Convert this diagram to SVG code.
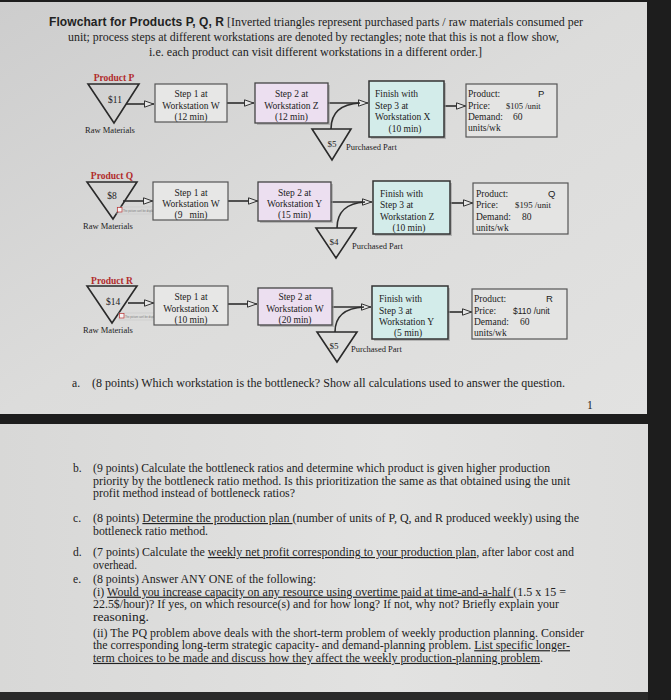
<svg xmlns="http://www.w3.org/2000/svg" width="671" height="700" viewBox="0 0 671 700">
<defs>
<linearGradient id="pg1" x1="0" y1="0" x2="1" y2="1">
<stop offset="0" stop-color="#cdcdcd"/><stop offset="0.5" stop-color="#dcdcdb"/><stop offset="1" stop-color="#e2e2e1"/>
</linearGradient>
<linearGradient id="pg2" x1="0" y1="0" x2="1" y2="0">
<stop offset="0" stop-color="#d8d8d7"/><stop offset="0.6" stop-color="#e2e2e1"/><stop offset="1" stop-color="#dddddc"/>
</linearGradient>
<marker id="ah" viewBox="0 0 10 8" refX="10" refY="4" markerWidth="10" markerHeight="8" markerUnits="userSpaceOnUse" orient="auto">
<path d="M0.5,0.8 L9.5,4 L0.5,7.2 z" fill="#e6e6e6" stroke="#333" stroke-width="1"/>
</marker>
</defs>
<style>
.s{font-family:"Liberation Serif",serif;fill:#222}
.h{font-family:"Liberation Sans",Arial,sans-serif;fill:#222}
.bx{font-size:9.5px}
.c{text-anchor:middle}
.q{font-size:11.6px}
.lab{font-family:"Liberation Serif",serif;font-weight:bold;font-size:9.5px;fill:#b12b2b;text-anchor:middle}
.tri{fill:none;stroke:#2a2a2a;stroke-width:1.6}
.b1{fill:#e7e7e6;stroke:#555;stroke-width:1.2}
.b2{fill:#ecdff0;stroke:#444;stroke-width:1.3}
.b3{fill:#d3ecea;stroke:#333;stroke-width:1.5}
.b4{fill:#e4e4e3;stroke:#555;stroke-width:1.2}
.sh{fill:#9a9a9a;opacity:0.6}
.ln{fill:none;stroke:#2e2e2e;stroke-width:1.6}
.u{text-decoration:underline}
</style>
<rect x="0" y="0" width="671" height="700" fill="#1d1d1d"/>
<rect x="0" y="2" width="647" height="412" fill="url(#pg1)"/>
<rect x="0" y="424" width="648" height="268" fill="url(#pg2)"/>
<rect x="0" y="692" width="648" height="8" fill="#2a2a2a"/>

<g id="title">
<text class="h" x="49" y="26" font-size="12" font-weight="bold" textLength="175">Flowchart for Products P, Q, R</text>
<text class="s" x="227" y="26" font-size="11.5" textLength="356" lengthAdjust="spacingAndGlyphs">[Inverted triangles represent purchased parts / raw materials consumed per</text>
<text class="s" x="68" y="41" font-size="11.5" textLength="491" lengthAdjust="spacingAndGlyphs">unit; process steps at different workstations are denoted by rectangles; note that this is not a flow show,</text>
<text class="s" x="149" y="56" font-size="11.5" textLength="333" lengthAdjust="spacingAndGlyphs">i.e. each product can visit different workstations in a different order.]</text>
</g>

<g id="connectors">
<line class="ln" x1="126" y1="104" x2="154" y2="104" marker-end="url(#ah)"/>
<line class="ln" x1="227" y1="103" x2="254" y2="103" marker-end="url(#ah)"/>
<line class="ln" x1="328" y1="103" x2="368" y2="103" marker-end="url(#ah)"/>
<path class="ln" d="M331,129 C331,112 341,104 360,103"/>
<line class="ln" x1="444" y1="106" x2="466" y2="106" marker-end="url(#ah)"/>

<line class="ln" x1="123" y1="201" x2="153" y2="201" marker-end="url(#ah)"/>
<line class="ln" x1="228" y1="201" x2="258" y2="201" marker-end="url(#ah)"/>
<line class="ln" x1="331" y1="202" x2="372" y2="202" marker-end="url(#ah)"/>
<path class="ln" d="M337,228 C337,212 347,203 365,202"/>
<line class="ln" x1="450" y1="203" x2="473" y2="203" marker-end="url(#ah)"/>

<line class="ln" x1="128" y1="303" x2="154" y2="303" marker-end="url(#ah)"/>
<line class="ln" x1="228" y1="304" x2="257" y2="304" marker-end="url(#ah)"/>
<line class="ln" x1="332" y1="307" x2="371" y2="307" marker-end="url(#ah)"/>
<path class="ln" d="M335,332 C335,316 345,308 364,307"/>
<line class="ln" x1="448" y1="312" x2="472" y2="312" marker-end="url(#ah)"/>
</g>

<!-- Product P -->
<g id="p-raw">
<text class="lab" x="114" y="81">Product P</text>
<polygon class="tri" points="88,84 139,84 114,123"/>
<text class="s bx c" x="115" y="103">$11</text>
<text class="s c" x="110" y="133" font-size="8.5">Raw Materials</text>
</g>
<g id="p-step1">
<rect class="b1" x="155" y="84" width="72" height="38"/>
<text class="s bx c" x="191" y="97">Step 1 at</text>
<text class="s bx c" x="191" y="108.5">Workstation W</text>
<text class="s bx c" x="191" y="120">(12 min)</text>
</g>
<g id="p-step2">
<rect class="sh" x="257" y="85" width="73" height="40"/>
<rect class="b2" x="255" y="83" width="73" height="40"/>
<text class="s bx c" x="291.5" y="97">Step 2 at</text>
<text class="s bx c" x="291.5" y="108.5">Workstation Z</text>
<text class="s bx c" x="291.5" y="120">(12 min)</text>
</g>
<g id="p-step3">
<rect class="sh" x="371" y="83" width="75" height="56"/>
<rect class="b3" x="369" y="81" width="75" height="56"/>
<text class="s bx" x="375" y="97">Finish with</text>
<text class="s bx" x="375" y="108.5">Step 3 at</text>
<text class="s bx" x="375" y="120">Workstation X</text>
<text class="s bx c" x="405" y="132">(10 min)</text>
</g>
<g id="p-product">
<rect class="b4" x="466" y="84" width="91" height="53"/>
<text class="s bx" x="468" y="97">Product:</text>
<text class="h bx" x="538" y="97">P</text>
<text class="s bx" x="468" y="108.5">Price:</text>
<text class="s" x="506" y="108.5" font-size="8.5">$105 /unit</text>
<text class="s bx" x="468" y="120">Demand:</text>
<text class="s bx" x="513" y="120">60</text>
<text class="s bx" x="468" y="131">units/wk</text>
</g>
<g id="p-purchased">
<polygon class="tri" points="312,129 351,129 332,160"/>
<text class="s c" x="332" y="147" font-size="9">$5</text>
<text class="s" x="346" y="150" font-size="8.5">Purchased Part</text>
</g>

<!-- Product Q -->
<g id="q-raw">
<text class="lab" x="112" y="179">Product Q</text>
<polygon class="tri" points="87,182 137,182 113,219"/>
<text class="s bx c" x="112" y="199">$8</text>
<text class="s c" x="108" y="229" font-size="8.5">Raw Materials</text>
<rect x="117" y="207" width="38" height="7" fill="none" stroke="#c8c8c8" stroke-width="0.6"/>
<rect x="117.5" y="207.5" width="4.5" height="4.5" fill="#f4f4f4" stroke="#b33" stroke-width="0.7"/>
<text x="123" y="211.5" font-family="Liberation Sans, sans-serif" font-size="2.6" fill="#777">The picture can't be displayed.</text>
</g>
<g id="q-step1">
<rect class="b1" x="153" y="182" width="75" height="38"/>
<text class="s bx c" x="191" y="195.5">Step 1 at</text>
<text class="s bx c" x="191" y="206.5">Workstation W</text>
<text class="s bx c" x="191" y="218" xml:space="preserve">(9   min)</text>
</g>
<g id="q-step2">
<rect class="sh" x="260" y="184" width="73" height="39"/>
<rect class="b2" x="258" y="182" width="73" height="39"/>
<text class="s bx c" x="294.5" y="195.5">Step 2 at</text>
<text class="s bx c" x="294.5" y="206.5">Workstation Y</text>
<text class="s bx c" x="294.5" y="218">(15 min)</text>
</g>
<g id="q-step3">
<rect class="sh" x="375" y="183" width="77" height="53"/>
<rect class="b3" x="373" y="181" width="77" height="53"/>
<text class="s bx" x="380" y="196.5">Finish with</text>
<text class="s bx" x="380" y="208">Step 3 at</text>
<text class="s bx" x="380" y="219.5">Workstation Z</text>
<text class="s bx c" x="409" y="231">(10 min)</text>
</g>
<g id="q-product">
<rect class="b4" x="473" y="183" width="95" height="51"/>
<text class="s bx" x="476" y="196.5">Product:</text>
<text class="h bx" x="548" y="196.5">Q</text>
<text class="s bx" x="476" y="208">Price:</text>
<text class="s" x="515" y="208" font-size="8.8">$195 /unit</text>
<text class="s bx" x="476" y="219.5">Demand:</text>
<text class="s bx" x="522" y="219.5">80</text>
<text class="s bx" x="476" y="231">units/wk</text>
</g>
<g id="q-purchased">
<polygon class="tri" points="316,228 356,228 336,258"/>
<text class="s c" x="334" y="245" font-size="9">$4</text>
<text class="s" x="352" y="249" font-size="8.5">Purchased Part</text>
</g>

<!-- Product R -->
<g id="r-raw">
<text class="lab" x="112" y="284">Product R</text>
<polygon class="tri" points="87,286 137,286 112,323"/>
<text class="s bx c" x="113" y="305">$14</text>
<text class="s c" x="108" y="333" font-size="8.5">Raw Materials</text>
<rect x="119" y="313" width="36" height="7" fill="none" stroke="#c8c8c8" stroke-width="0.6"/>
<rect x="119.5" y="313.5" width="4.5" height="4.5" fill="#f4f4f4" stroke="#b33" stroke-width="0.7"/>
<text x="125" y="317.5" font-family="Liberation Sans, sans-serif" font-size="2.6" fill="#777">The picture can't be displayed.</text>
</g>
<g id="r-step1">
<rect class="b1" x="154" y="286" width="74" height="39"/>
<text class="s bx c" x="191" y="300">Step 1 at</text>
<text class="s bx c" x="191" y="311.5">Workstation X</text>
<text class="s bx c" x="191" y="323">(10 min)</text>
</g>
<g id="r-step2">
<rect class="sh" x="260" y="290" width="74" height="37"/>
<rect class="b2" x="258" y="288" width="74" height="37"/>
<text class="s bx c" x="295" y="300">Step 2 at</text>
<text class="s bx c" x="295" y="311.5">Workstation W</text>
<text class="s bx c" x="295" y="323">(20 min)</text>
</g>
<g id="r-step3">
<rect class="sh" x="374" y="288" width="76" height="53"/>
<rect class="b3" x="372" y="286" width="76" height="53"/>
<text class="s bx" x="379" y="302">Finish with</text>
<text class="s bx" x="379" y="313.5">Step 3 at</text>
<text class="s bx" x="379" y="325">Workstation Y</text>
<text class="s bx c" x="408" y="335.5">(5 min)</text>
</g>
<g id="r-product">
<rect class="b4" x="472" y="289" width="95" height="50"/>
<text class="s bx" x="474" y="302">Product:</text>
<text class="h bx" x="546" y="302">R</text>
<text class="s bx" x="474" y="313.5">Price:</text>
<text class="h" x="513" y="313.5" font-size="8.5">$110 /unit</text>
<text class="s bx" x="474" y="325">Demand:</text>
<text class="s bx" x="520" y="325">60</text>
<text class="s bx" x="474" y="336">units/wk</text>
</g>
<g id="r-purchased">
<polygon class="tri" points="317,332 357,332 337,362"/>
<text class="s c" x="334" y="349" font-size="9">$5</text>
<text class="s" x="351" y="352" font-size="8.5">Purchased Part</text>
</g>

<g id="questions">
<text class="s q" x="72" y="387">a.</text>
<text class="s q" x="92" y="387" textLength="473" lengthAdjust="spacingAndGlyphs">(8 points) Which workstation is the bottleneck? Show all calculations used to answer the question.</text>
<text class="s q" x="587" y="409">1</text>

<text class="s q" x="73" y="472">b.</text>
<text class="s q" x="93" y="472" textLength="457" lengthAdjust="spacingAndGlyphs">(9 points) Calculate the bottleneck ratios and determine which product is given higher production</text>
<text class="s q" x="93" y="484.7" textLength="477" lengthAdjust="spacingAndGlyphs">priority by the bottleneck ratio method. Is this prioritization the same as that obtained using the unit</text>
<text class="s q" x="93" y="497.4" textLength="202" lengthAdjust="spacingAndGlyphs">profit method instead of bottleneck ratios?</text>

<text class="s q" x="73" y="522">c.</text>
<text class="s q" x="93" y="522" textLength="486" lengthAdjust="spacingAndGlyphs">(8 points) <tspan class="u">Determine the production plan </tspan>(number of units of P, Q, and R produced weekly) using the</text>
<text class="s q" x="93" y="534.7" textLength="115" lengthAdjust="spacingAndGlyphs">bottleneck ratio method.</text>

<text class="s q" x="73" y="556">d.</text>
<text class="s q" x="93" y="556" textLength="481" lengthAdjust="spacingAndGlyphs">(7 points) Calculate the <tspan class="u">weekly net profit corresponding to your production plan</tspan>, after labor cost and</text>
<text class="s q" x="93" y="568.7" textLength="44" lengthAdjust="spacingAndGlyphs">overhead.</text>

<text class="s q" x="73" y="583">e.</text>
<text class="s q" x="93" y="583" textLength="223" lengthAdjust="spacingAndGlyphs">(8 points) Answer ANY ONE of the following:</text>
<text class="s q" x="93" y="595.7" textLength="473" lengthAdjust="spacingAndGlyphs">(i) <tspan class="u">Would you increase capacity on any resource using overtime paid at time-and-a-half </tspan>(1.5 x 15 =</text>
<text class="s q" x="93" y="608.4" textLength="466" lengthAdjust="spacingAndGlyphs">22.5$/hour)? If yes, on which resource(s) and for how long? If not, why not? Briefly explain your</text>
<text class="s q" x="93" y="621.1" textLength="56" lengthAdjust="spacingAndGlyphs">reasoning.</text>
<text class="s q" x="93" y="636.5" textLength="491" lengthAdjust="spacingAndGlyphs">(ii) The PQ problem above deals with the short-term problem of weekly production planning. Consider</text>
<text class="s q" x="93" y="649.2" textLength="477" lengthAdjust="spacingAndGlyphs">the corresponding long-term strategic capacity- and demand-planning problem. <tspan class="u">List specific longer-</tspan></text>
<text class="s q" x="93" y="661.9" textLength="450" lengthAdjust="spacingAndGlyphs"><tspan class="u">term choices to be made and discuss how they affect the weekly production-planning problem</tspan>.</text>
</g>
</svg>
